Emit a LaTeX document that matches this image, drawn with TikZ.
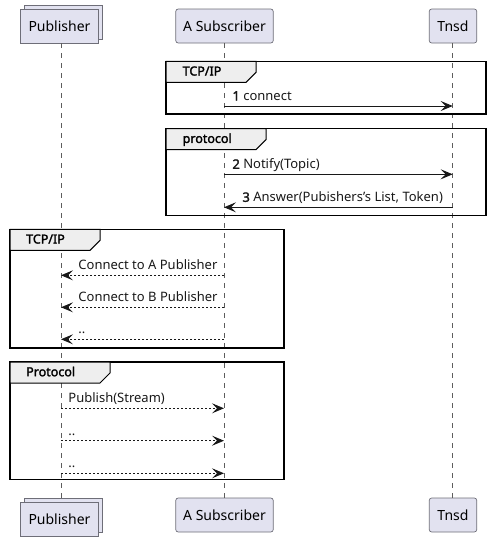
\documentclass[tikz,border=0pt]{standalone}
\usepackage{fontspec}
\setmainfont{Noto Sans}[BoldFont={Noto Sans}, BoldFeatures={FakeBold=2}]
\usetikzlibrary{positioning}
\usetikzlibrary{arrows.meta}

\definecolor{partfill}{HTML}{E2E2F0}
\definecolor{partline}{HTML}{6E6E78}
\definecolor{tabfill}{HTML}{EEEEEE}
\definecolor{ink}{HTML}{181818}

\begin{document}
\begin{tikzpicture}[x=1pt,y=-1pt,
        part/.style={draw=partline, fill=partfill, line width=0.7pt, rounded corners=2.5pt,
            minimum height=34pt, inner sep=0pt, font=\fontsize{14}{16}\selectfont},
        stack/.style={part, rounded corners=0pt},
        life/.style={draw=ink!70, line width=0.5pt, dash pattern=on 5pt off 5pt},
        msg/.style={draw=ink, line width=0.9pt, -{Stealth[length=12pt,width=10pt,inset=5pt]}},
        reply/.style={msg, dash pattern=on 2pt off 2pt},
        lbl/.style={anchor=base west, inner sep=0pt, yshift=5.5pt, text=ink, font=\fontsize{13}{15}\selectfont},
        grp/.style={draw=black, line width=1.5pt},
        grptab/.style={draw=black, fill=tabfill, line width=1pt},
        grplbl/.style={anchor=base west, inner sep=0pt, font=\fontsize{12.5}{15}\selectfont\bfseries}]
    \useasboundingbox (0,0) rectangle (491,541);

    % participants, top and bottom
    \node(pubTb) [stack, minimum width=78.5pt] at (63.5,22) {};
    \node(pubT) [stack, minimum width=78.5pt] at (59.5,26) {Publisher};
    \node(subT) [part, minimum width=97.5pt] at (224.5,26) {A Subscriber};
    \node(tnsT) [part, minimum width=47.5pt] at (453,26) {Tnsd};

    \node(pubBb) [stack, minimum width=78.5pt] at (63.5,515) {};
    \node(pubB) [stack, minimum width=78.5pt] at (59.5,519) {Publisher};
    \node(subB) [part, minimum width=97.5pt] at (224.5,515) {A Subscriber};
    \node(tnsB) [part, minimum width=47.5pt] at (453,515) {Tnsd};

    % points on the lifelines, one row per message
    \foreach \n/\y in {1/106, 2/174.3, 3/207.3, 4/275.3, 5/307.3, 6/339.3, 7/408.3, 8/440.7, 9/473.3} {
        \coordinate (p\n) at (61,\y);
        \coordinate (s\n) at (224,\y);
        \coordinate (t\n) at (452.7,\y);
    }

    \draw[life] (pubT.south -| p1) -- (pubBb.north -| p1);
    \draw[life] (subT.south -| s1) -- (subB.north -| s1);
    \draw[life] (tnsT.south -| t1) -- (tnsB.north -| t1);

    % groups
    \draw[grp] (166,61.3) rectangle (486,114);
    \draw[grptab] (166,61.3) -- (256,61.3) -- (256,72.3) -- (246,82.3) -- (166,82.3) -- cycle;
    \node(gTcpA) [grplbl] at (182.5,75.5) {TCP/IP};

    \draw[grp] (166,128.7) rectangle (486,215.3);
    \draw[grptab] (166,128.7) -- (266,128.7) -- (266,139.7) -- (256,149.7) -- (166,149.7) -- cycle;
    \node(gProtoA) [grplbl] at (182.5,142.9) {protocol};

    \draw[grp] (10,229.3) rectangle (284,348);
    \draw[grptab] (10,229.3) -- (100,229.3) -- (100,240.3) -- (90,250.3) -- (10,250.3) -- cycle;
    \node(gTcpB) [grplbl] at (26,243.5) {TCP/IP};

    \draw[grp] (10,362) rectangle (284,479.3);
    \draw[grptab] (10,362) -- (110,362) -- (110,373) -- (100,383) -- (10,383) -- cycle;
    \node(gProtoB) [grplbl] at (26,376.2) {Protocol};

    % messages
    \draw[msg] (s1) -- (t1) node[lbl, pos=0, xshift=8pt] {\textbf{1} connect};
    \draw[msg] (s2) -- (t2) node[lbl, pos=0, xshift=8pt] {\textbf{2} Notify(Topic)};
    \draw[msg] (t3) -- (s3) node[lbl, pos=1, xshift=18pt] {\textbf{3} Answer(Pubishers\symbol{"27}s List, Token)};

    \draw[reply] (s4) -- (p4) node[lbl, pos=1, xshift=17pt] {Connect to A Publisher};
    \draw[reply] (s5) -- (p5) node[lbl, pos=1, xshift=17pt] {Connect to B Publisher};
    \draw[reply] (s6) -- (p6) node[lbl, pos=1, xshift=17pt] {..};

    \draw[reply] (p7) -- (s7) node[lbl, pos=0, xshift=7pt] {Publish(Stream)};
    \draw[reply] (p8) -- (s8) node[lbl, pos=0, xshift=7pt] {..};
    \draw[reply] (p9) -- (s9) node[lbl, pos=0, xshift=7pt] {..};
\end{tikzpicture}
\end{document}
